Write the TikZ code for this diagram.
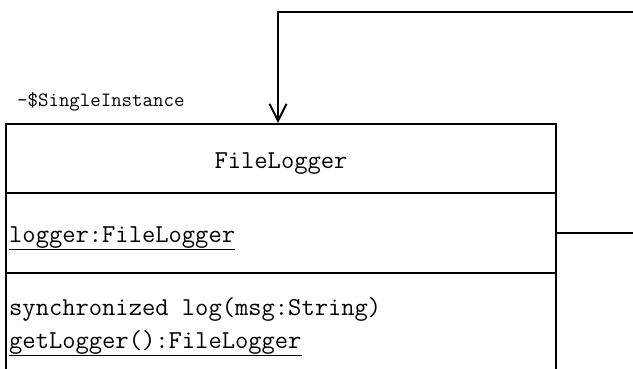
\documentclass[tikz,border=0pt]{standalone}
\usepackage{fontspec}
\usepackage{tikz}
\usetikzlibrary{arrows.meta,positioning}

\begin{document}
\begin{tikzpicture}[
  x=1pt, y=-1pt,
  compart/.style={rectangle, draw=black, line width=2pt, minimum width=550pt, inner sep=0pt},
  member/.style={anchor=base west, inner sep=0pt, font=\ttfamily\fontsize{25.8}{30}\selectfont},
  role/.style={anchor=base west, inner sep=0pt, font=\ttfamily\fontsize{20.3}{24}\selectfont},
  assoc/.style={-{Straight Barb[length=17pt, width=17pt, line width=2pt]}, line width=2pt},
  link/.style={line width=2pt}
]
  \useasboundingbox (0,0) rectangle (633,369);
  \clip (0,0) rectangle (633,369);

  % class box
  \node[compart, minimum height=69pt] (head) at (281,158.5) {};
  \node[compart, minimum height=80pt] (attrs) at (281,233) {};
  \node[compart, minimum height=140pt] (ops) at (281,343) {};

  \node[member, anchor=base] (name) at (281,168) {FileLogger};
  \node[member] (attr) at (9,242) {\underline{logger:FileLogger}};
  \node[member] (oplog) at (9,315) {synchronized log(msg:String)};
  \node[member] (opget) at (9,348) {\underline{getLogger():FileLogger}};

  % association ends
  \coordinate (outend) at (640,233);
  \coordinate (loopend) at (640,12);
  \coordinate (target) at ([xshift=-3pt]head.north);

  \draw[link] (attrs.east) -- (outend);
  \draw[assoc] (loopend) -| (target);

  \node[role] (rolename) at (17,107) {-\$SingleInstance};
\end{tikzpicture}
\end{document}
